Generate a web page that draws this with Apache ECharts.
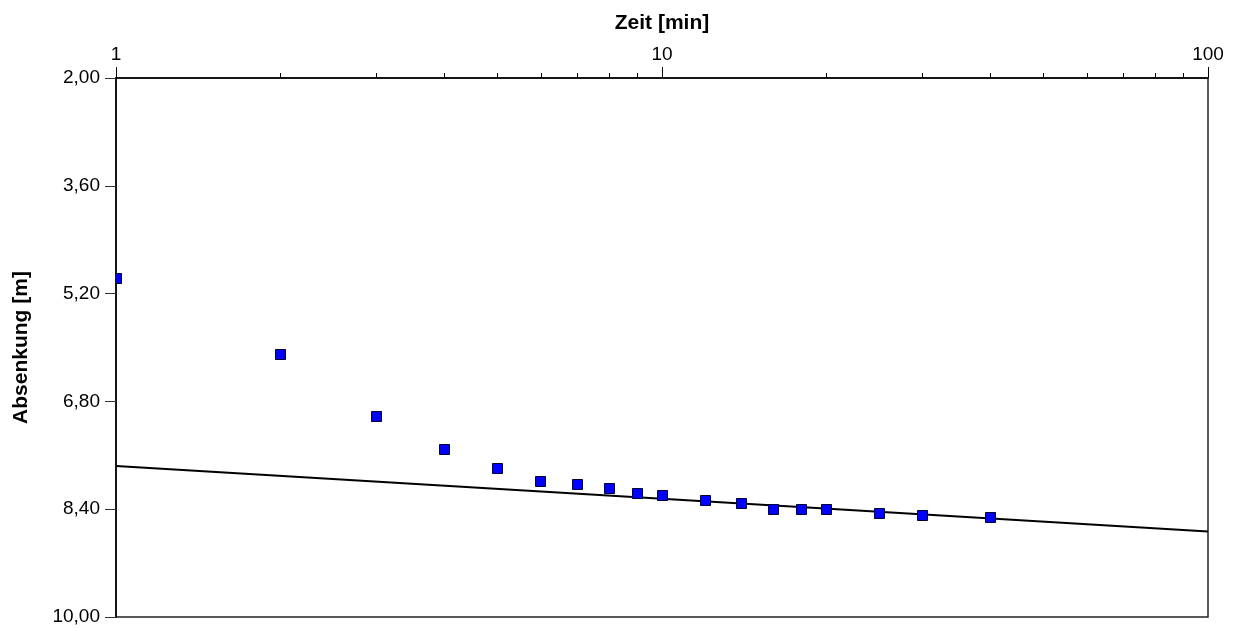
<!DOCTYPE html>
<html>
<head>
<meta charset="utf-8">
<script src="https://cdn.jsdelivr.net/npm/echarts@6/dist/echarts.min.js"></script>
<style>
  html, body { margin: 0; padding: 0; background: #fff; }
  #chart { width: 1240px; height: 631px; }
</style>
</head>
<body>
<div id="chart"></div>
<script>
// Pumpversuch: Absenkung über der Zeit (halblogarithmisch)
const zeitMin = [1, 2, 3, 4, 5, 6, 7, 8, 9, 10, 12, 14, 16, 18, 20, 25, 30, 40];
const absenkungM = [4.98, 6.10, 7.02, 7.51, 7.79, 7.99, 8.03, 8.10, 8.16, 8.19, 8.27, 8.32, 8.40, 8.40, 8.40, 8.46, 8.49, 8.52];

// Ausgleichsgerade (Endpunkte am Achsenrand)
const geradeZeit = [1, 100];
const geradeAbsenkung = [7.76, 8.73];

const yMin = 2.0, yMax = 10.0, yStep = 1.6;
const xMin = 1, xMax = 100;

const font = 'Liberation Sans, Arial, Helvetica, sans-serif';
const markerSize = 11;
const chart = echarts.init(document.getElementById('chart'));

// Quadratische Messpunkte, am Diagrammrand abgeschnitten
function renderMarker(params, api) {
  const p = api.coord([api.value(0), api.value(1)]);
  const h = markerSize / 2;
  return {
    type: 'rect',
    shape: { x: Math.round(p[0] - h) + 0.5, y: Math.round(p[1] - h) + 0.5, width: markerSize - 1, height: markerSize - 1 },
    style: { fill: '#0000ff', stroke: '#000033', lineWidth: 1 }
  };
}

chart.setOption({
  backgroundColor: '#ffffff',
  animation: false,
  grid: {
    left: 116, top: 78, right: 32, bottom: 14,
    show: true, borderColor: '#222', borderWidth: 1.5, backgroundColor: 'transparent'
  },
  xAxis: {
    type: 'log',
    logBase: 10,
    min: xMin,
    max: xMax,
    position: 'top',
    name: 'Zeit [min]',
    nameLocation: 'middle',
    nameGap: 44,
    nameTextStyle: { fontFamily: font, fontSize: 21, fontWeight: 'bold', color: '#000' },
    axisLine: { show: true, lineStyle: { color: '#000', width: 1.5 } },
    axisTick: { show: true, inside: false, length: 11, lineStyle: { color: '#000', width: 1 } },
    minorTick: { show: true, splitNumber: 9, length: 5, lineStyle: { color: '#000', width: 1 } },
    axisLabel: { fontFamily: font, fontSize: 19, color: '#000', margin: 14 },
    splitLine: { show: false },
    minorSplitLine: { show: false }
  },
  yAxis: {
    type: 'value',
    inverse: true,
    min: yMin,
    max: yMax,
    interval: yStep,
    name: 'Absenkung [m]',
    nameLocation: 'middle',
    nameGap: 84,
    nameRotate: 90,
    nameTextStyle: { fontFamily: font, fontSize: 21, fontWeight: 'bold', color: '#000' },
    axisLine: { show: true, lineStyle: { color: '#000', width: 1.5 } },
    axisTick: { show: true, inside: false, length: 11, lineStyle: { color: '#333', width: 1 } },
    axisLabel: {
      fontFamily: font, fontSize: 19, color: '#000', margin: 16,
      formatter: v => v.toFixed(2).replace('.', ',')
    },
    splitLine: { show: false }
  },
  series: [
    {
      type: 'line',
      data: geradeZeit.map((t, i) => [t, geradeAbsenkung[i]]),
      symbol: 'none',
      lineStyle: { color: '#000', width: 2 },
      z: 2
    },
    {
      type: 'custom',
      data: zeitMin.map((t, i) => [t, absenkungM[i]]),
      renderItem: renderMarker,
      clip: true,
      encode: { x: 0, y: 1 },
      z: 3
    }
  ]
});
</script>
</body>
</html>
